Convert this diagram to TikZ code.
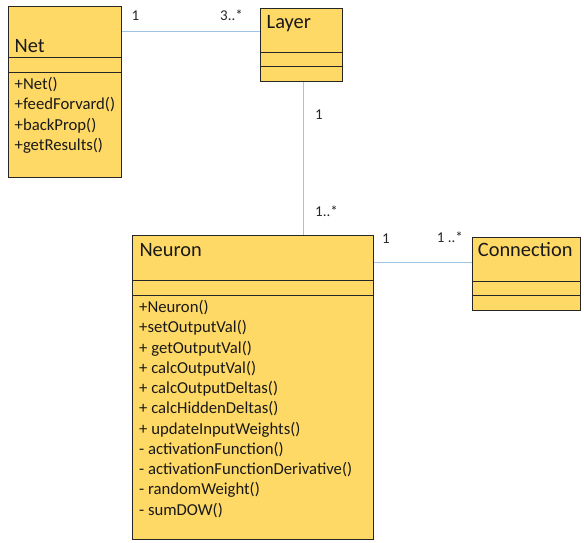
\documentclass[tikz,border=0pt]{standalone}
\usepackage{fontspec}
\setmainfont{Carlito}
\usetikzlibrary{calc}
\definecolor{classfill}{HTML}{FFD966}
\definecolor{classline}{HTML}{262626}
\definecolor{assoc}{HTML}{9DC3E6}
\tikzset{
  classbox/.style={draw=classline, fill=classfill, line width=0.9pt, inner sep=0pt, anchor=north west},
  divider/.style={draw=classline, line width=0.9pt},
  classname/.style={anchor=base west, inner sep=0pt, font=\fontsize{20.4}{22}\selectfont, text=black!90},
  member/.style={anchor=base west, inner sep=0pt, font=\fontsize{16.7}{18}\selectfont, text=black!90},
  mult/.style={anchor=base west, inner sep=0pt, font=\fontsize{15}{16}\selectfont, text=black!85},
  association/.style={draw=assoc, line width=1.1pt},
}
\begin{document}
\begin{tikzpicture}[x=1pt, y=-1pt]
\useasboundingbox (0,0) rectangle (584,542);

% Net class
\node[classbox, minimum width=113pt, minimum height=171pt] (net) at (8,5.5) {};
\draw[divider] (8,57.3) -- (121,57.3) (8,72) -- (121,72);
\node[classname] (netname) at (14.5,52) {Net};
\node[member] (n1) at (14.5,89.5) {+Net()};
\node[member] (n2) at (14.5,109.8) {+feedForvard()};
\node[member] (n3) at (14.5,130.1) {+backProp()};
\node[member] (n4) at (14.5,150.4) {+getResults()};

% Layer class
\node[classbox, minimum width=81.5pt, minimum height=73.5pt] (layer) at (260,7.5) {};
\draw[divider] (260,52.3) -- (341.5,52.3) (260,66.7) -- (341.5,66.7);
\node[classname] (layername) at (266.5,28) {Layer};

% Neuron class
\node[classbox, minimum width=241pt, minimum height=304pt] (neuron) at (132.3,235.3) {};
\draw[divider] (132.3,280.7) -- (373.3,280.7) (132.3,295.3) -- (373.3,295.3);
\node[classname] (neuronname) at (139.3,256) {Neuron};
\foreach \m [count=\i from 0] in {+Neuron(), +setOutputVal(), + getOutputVal(), + calcOutputVal(),
  + calcOutputDeltas(), + calcHiddenDeltas(), + updateInputWeights(), - activationFunction(),
  - activationFunctionDerivative(), - randomWeight(), - sumDOW()}
  \node[member] (m\i) at (139,312.5+20.25*\i) {\m};

% Connection class
\node[classbox, minimum width=108.5pt, minimum height=73.3pt] (conn) at (471.7,236.7) {};
\draw[divider] (471.7,281) -- (580.2,281) (471.7,295.3) -- (580.2,295.3);
\node[classname] (connname) at (477.7,256.7) {Connection};

% Associations (y grows downwards in this picture)
\coordinate (netport) at ($(net.north east)+(0,26.2)$);
\draw[association] (netport) -- (netport -| layer.west);
\coordinate (layerport) at ($(layer.south west)+(43.3,0)$);
\draw[association] (layerport) -- (layerport |- neuron.north);
\coordinate (neuronport) at ($(neuron.north east)+(0,27)$);
\draw[association] (neuronport) -- (neuronport -| conn.west);

% Multiplicities
\node[mult] (mnet) at (131.5,20) {1};
\node[mult] (mlayer) at (220,20) {3..*};
\node[mult] (mlayerdown) at (315,119) {1};
\node[mult] (mneuronup) at (315,216.7) {1..*};
\node[mult] (mneuron) at (382,243) {1};
\node[mult] (mconn) at (436.7,242.3) {1 ..*};
\end{tikzpicture}
\end{document}
